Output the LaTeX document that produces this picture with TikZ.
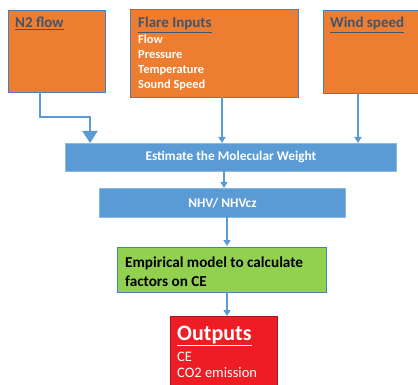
\documentclass[tikz,border=0pt]{standalone}
\usepackage{fontspec}
\setmainfont{Carlito}
\usetikzlibrary{arrows.meta}
\definecolor{orng}{HTML}{ED7D31}
\definecolor{bord}{HTML}{4A7EBB}
\definecolor{bluef}{HTML}{5B9BD5}
\definecolor{ttl}{HTML}{44546A}
\definecolor{grn}{HTML}{92D050}
\definecolor{rd}{HTML}{EE1C25}
\begin{document}
\begin{tikzpicture}[x=1pt,y=-1pt,
  obox/.style={draw=bord,fill=orng,line width=0.8pt},
  bbox/.style={draw=bluef!70!white,fill=bluef,line width=0.8pt},
  conn/.style={draw=bluef,line width=2pt,-{Triangle[length=6pt,width=7pt]}},
  bigconn/.style={draw=bluef,line width=2pt,-{Triangle[length=12pt,width=15pt]}},
  ttlt/.style={anchor=base west,inner sep=0pt,font=\bfseries\fontsize{15}{17}\selectfont,text=ttl},
  itm/.style={anchor=base west,inner sep=0pt,font=\bfseries\fontsize{12.4}{14}\selectfont,text=white},
  empl/.style={anchor=base west,inner sep=0pt,font=\bfseries\fontsize{15.2}{19}\selectfont,text=black}]
\useasboundingbox (0,0) rectangle (418,385);
% top boxes
\path[obox] (8,10) rectangle (105,92);
\coordinate (n2out) at (40,92);
\node[ttlt] (n2t) at (15,28) {\underline{N2 flow}};
\path[obox] (130,9) rectangle (298,97);
\coordinate (flout) at (222,97);
\node[ttlt] (flt) at (138,28) {\underline{Flare Inputs}};
\node[itm] (f1) at (138,44) {Flow};
\node[itm] (f2) at (138,59) {Pressure};
\node[itm] (f3) at (138,74) {Temperature};
\node[itm] (f4) at (138,89) {Sound Speed};
\path[obox] (323,10) rectangle (420,93);
\coordinate (wout) at (358,93);
\node[ttlt] (wt) at (330,28) {\underline{Wind speed}};
% estimate
\node[bbox,minimum width=331pt,minimum height=28pt,inner sep=0pt,anchor=north west,
  font=\bfseries\fontsize{13.3}{15}\selectfont,text=white] (est) at (65,143) {Estimate the Molecular Weight};
\node[bbox,minimum width=246pt,minimum height=29pt,inner sep=0pt,anchor=north west,
  font=\bfseries\fontsize{13.3}{15}\selectfont,text=white] (nhv) at (99,188) {NHV/ NHVcz};
\node[draw=bord,fill=grn,line width=0.8pt,minimum width=209pt,minimum height=45pt,inner sep=0pt,anchor=north west] (emp) at (117,247) {};
\node[empl] (e1) at (125,267) {Empirical model to calculate};
\node[empl] (e2) at (125,286) {factors on CE};
\node[draw=rd!70!black,fill=rd,line width=0.8pt,minimum width=107pt,minimum height=72pt,inner sep=0pt,anchor=north west] (out) at (170,316) {};
\node[anchor=base west,inner sep=0pt,font=\bfseries\fontsize{22}{24}\selectfont,text=white] (outt) at (177,340) {\underline{Outputs}};
\node[anchor=base west,inner sep=0pt,font=\fontsize{14.5}{16}\selectfont,text=white] (o1) at (177,361) {CE};
\node[anchor=base west,inner sep=0pt,font=\fontsize{14.5}{16}\selectfont,text=white] (o2) at (177,377) {CO2 emission};
% connectors
\draw[bigconn] (n2out) |- (90,117) -- (90,143);
\draw[conn] (flout) -- (flout |- est.north);
\draw[conn] (wout) -- (wout |- est.north);
\draw[conn] (224,171) -- (224,188);
\draw[conn] (227,217) -- (227,246);
\draw[conn] (227,292) -- (227,316);
\end{tikzpicture}
\end{document}
